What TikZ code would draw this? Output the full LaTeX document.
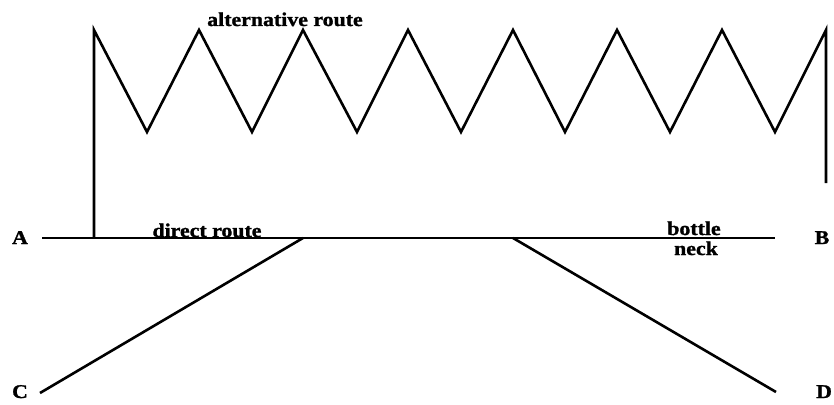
\documentclass[tikz,border=0pt]{standalone}
\usepackage{fontspec}
\setmainfont{Liberation Serif}[BoldFeatures={FakeBold=1.2}]
\begin{document}
\begin{tikzpicture}[x=1pt,y=-1pt,
  route/.style={line width=2.6pt,line join=miter,line cap=butt},
  lbl/.style={font=\fontsize{19.5}{19.5}\selectfont\bfseries,inner sep=0pt,anchor=base,xscale=1.12},
  ]
\useasboundingbox (0,0) rectangle (834,404);
% labels
\node[lbl] (A) at (20,244) {A};
\node[lbl] (B) at (822,244) {B};
\node[lbl] (C) at (20,398) {C};
\node[lbl] (D) at (824,398) {D};
\node[lbl] (alt) at (285,26) {alternative route};
\node[lbl] (dir) at (207,237) {direct route};
\node[lbl] (bot) at (694,235) {bottle};
\node[lbl] (neck) at (696,255) {neck};
% junction points
\coordinate (hA) at (42,238);
\coordinate (hB) at (775,238);
\coordinate (j1) at (94,238);
\coordinate (jC) at (303,238);
\coordinate (jD) at (513,238);
\coordinate (eC) at (40,393);
\coordinate (eD) at (776,392);
\coordinate (p0) at (94,30);
\coordinate (v1) at (147,132);
\coordinate (p1) at (199,30);
\coordinate (v2) at (252,132);
\coordinate (p2) at (303,30);
\coordinate (v3) at (357,132);
\coordinate (p3) at (408,30);
\coordinate (v4) at (461,132);
\coordinate (p4) at (513,30);
\coordinate (v5) at (565,132);
\coordinate (p5) at (617,30);
\coordinate (v6) at (670,132);
\coordinate (p6) at (722,30);
\coordinate (v7) at (775,132);
\coordinate (p7) at (826,30);
\coordinate (rEnd) at (826,183);
% direct route
\draw[line width=2pt] (hA) -- (hB);
% alternative route
\draw[route] (j1) -- (p0) -- (v1) -- (p1) -- (v2) -- (p2) -- (v3) -- (p3) -- (v4)
  -- (p4) -- (v5) -- (p5) -- (v6) -- (p6) -- (v7) -- (p7) -- (rEnd);
% branches
\draw[route] (eC) -- (jC);
\draw[route] (jD) -- (eD);
\end{tikzpicture}
\end{document}
